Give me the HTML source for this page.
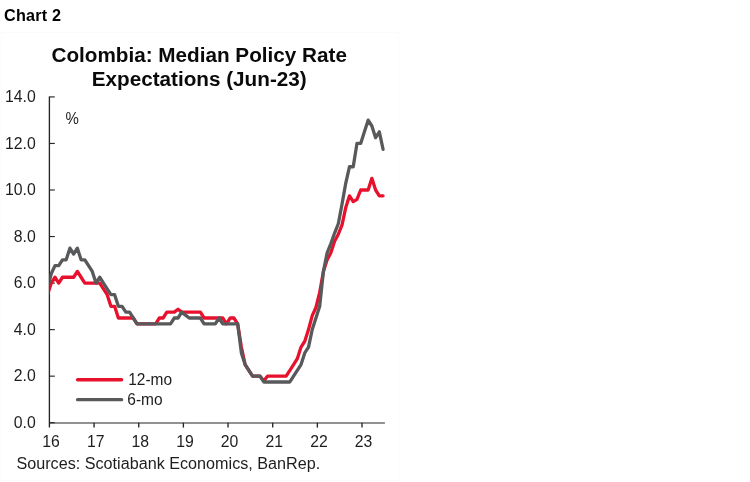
<!DOCTYPE html>
<html lang="en"><head><meta charset="utf-8"><title>Chart 2</title>
<style>
html,body{margin:0;padding:0;background:#fff;}
body{width:750px;height:482px;overflow:hidden;position:relative;font-family:"Liberation Sans",sans-serif;}
h1{position:absolute;left:4px;top:5px;margin:0;font-size:16.2px;line-height:20px;font-weight:bold;color:#000;letter-spacing:0.2px;white-space:nowrap;}
#frame{position:absolute;left:1px;top:32px;width:398px;height:449px;box-sizing:border-box;border:1px solid #fbfbfb;}
svg{position:absolute;left:0;top:0;}
svg text{font-family:"Liberation Sans",sans-serif;fill:#1e1e1e;}
svg text.t{fill:#0a0a0a;}
.t{font-weight:bold;font-size:20.7px;text-anchor:middle;}
.a{font-size:15.8px;}
.l{font-size:15.5px;}
.s{font-size:16.18px;}
</style></head><body>
<h1>Chart 2</h1>
<div id="frame"></div>
<svg width="750" height="482" viewBox="0 0 750 482">
<defs><clipPath id="c"><rect x="49.4" y="90" width="345" height="335"/></clipPath></defs>
<text class="t" x="199.2" y="61.7">Colombia: Median Policy Rate</text>
<text class="t" x="199.2" y="85.9">Expectations (Jun-23)</text>

<g stroke="#262626" stroke-width="1.35" fill="none">
<line x1="49.4" y1="96.4" x2="49.4" y2="427.6"/>
<line x1="49.4" y1="422.95" x2="384.9" y2="422.95" stroke-width="1.15"/>
<line x1="49.4" y1="422.70" x2="54.8" y2="422.70" stroke-width="1.15"/>
<line x1="49.4" y1="376.16" x2="54.8" y2="376.16" stroke-width="1.15"/>
<line x1="49.4" y1="329.62" x2="54.8" y2="329.62" stroke-width="1.15"/>
<line x1="49.4" y1="283.08" x2="54.8" y2="283.08" stroke-width="1.15"/>
<line x1="49.4" y1="236.54" x2="54.8" y2="236.54" stroke-width="1.15"/>
<line x1="49.4" y1="190.00" x2="54.8" y2="190.00" stroke-width="1.15"/>
<line x1="49.4" y1="143.46" x2="54.8" y2="143.46" stroke-width="1.15"/>
<line x1="49.4" y1="96.92" x2="54.8" y2="96.92" stroke-width="1.15"/>
<line x1="94.06" y1="422.7" x2="94.06" y2="427.6"/>
<line x1="138.72" y1="422.7" x2="138.72" y2="427.6"/>
<line x1="183.38" y1="422.7" x2="183.38" y2="427.6"/>
<line x1="228.04" y1="422.7" x2="228.04" y2="427.6"/>
<line x1="272.70" y1="422.7" x2="272.70" y2="427.6"/>
<line x1="317.36" y1="422.7" x2="317.36" y2="427.6"/>
<line x1="362.02" y1="422.7" x2="362.02" y2="427.6"/>
</g>
<text class="a" text-anchor="end" transform="translate(35.8 427.8) scale(1 1.05)">0.0</text>
<text class="a" text-anchor="end" transform="translate(35.8 381.3) scale(1 1.05)">2.0</text>
<text class="a" text-anchor="end" transform="translate(35.8 334.7) scale(1 1.05)">4.0</text>
<text class="a" text-anchor="end" transform="translate(35.8 288.2) scale(1 1.05)">6.0</text>
<text class="a" text-anchor="end" transform="translate(35.8 241.6) scale(1 1.05)">8.0</text>
<text class="a" text-anchor="end" transform="translate(35.8 195.1) scale(1 1.05)">10.0</text>
<text class="a" text-anchor="end" transform="translate(35.8 148.6) scale(1 1.05)">12.0</text>
<text class="a" text-anchor="end" transform="translate(35.8 102.0) scale(1 1.05)">14.0</text>
<text class="a" text-anchor="middle" transform="translate(51.0 446.5) scale(1 1.05)">16</text>
<text class="a" text-anchor="middle" transform="translate(95.7 446.5) scale(1 1.05)">17</text>
<text class="a" text-anchor="middle" transform="translate(140.3 446.5) scale(1 1.05)">18</text>
<text class="a" text-anchor="middle" transform="translate(185.0 446.5) scale(1 1.05)">19</text>
<text class="a" text-anchor="middle" transform="translate(229.6 446.5) scale(1 1.05)">20</text>
<text class="a" text-anchor="middle" transform="translate(274.3 446.5) scale(1 1.05)">21</text>
<text class="a" text-anchor="middle" transform="translate(319.0 446.5) scale(1 1.05)">22</text>
<text class="a" text-anchor="middle" transform="translate(363.6 446.5) scale(1 1.05)">23</text>
<text class="a" style="font-size:15px" transform="translate(65.5 123.9) scale(1 1.13)">%</text>
<g fill="none" stroke-width="3.3" stroke-linejoin="round" stroke-linecap="round" clip-path="url(#c)">
<polyline stroke="#e8112d" points="47.54,294.71 51.26,283.08 54.99,277.26 58.72,283.08 62.45,277.26 66.18,277.26 69.90,277.26 73.63,277.26 77.36,271.44 81.09,277.26 84.82,283.08 88.54,283.08 92.27,283.08 96.00,283.08 99.73,283.08 103.46,288.90 107.18,294.71 110.91,306.35 114.64,306.35 118.37,317.99 122.10,317.99 125.82,317.99 129.55,317.99 133.28,317.99 137.01,323.80 140.74,323.80 144.46,323.80 148.19,323.80 151.92,323.80 155.65,323.80 159.38,317.99 163.10,317.99 166.83,312.17 170.56,312.17 174.29,312.17 178.02,309.26 181.74,312.17 185.47,312.17 189.20,312.17 192.93,312.17 196.66,312.17 200.38,312.17 204.11,317.99 207.84,317.99 211.57,317.99 215.30,317.99 219.02,317.99 222.75,317.99 226.48,323.80 230.21,317.99 233.94,317.99 237.66,323.80 241.39,347.07 245.12,364.52 248.85,370.34 252.58,376.16 256.30,376.16 260.03,376.16 263.76,380.81 267.49,376.16 271.22,376.16 274.94,376.16 278.67,376.16 282.40,376.16 286.13,376.16 289.86,370.34 293.58,364.52 297.31,358.71 301.04,347.07 304.77,341.25 308.50,329.62 312.22,315.66 315.95,307.51 319.68,292.39 323.41,271.44 327.14,259.81 330.86,252.83 334.59,241.19 338.32,234.21 342.05,224.91 345.78,207.45 349.50,195.82 353.23,201.63 356.96,199.31 360.69,190.00 364.42,190.00 368.14,190.00 371.87,178.36 375.60,190.00 379.33,195.82 383.06,195.82"/>
<polyline stroke="#58595b" points="47.54,287.73 51.26,273.77 54.99,265.63 58.72,265.63 62.45,259.81 66.18,259.81 69.90,248.17 73.63,253.99 77.36,248.17 81.09,259.81 84.82,259.81 88.54,265.63 92.27,271.44 96.00,283.08 99.73,277.26 103.46,283.08 107.18,288.90 110.91,294.71 114.64,294.71 118.37,306.35 122.10,306.35 125.82,312.17 129.55,312.17 133.28,317.99 137.01,323.80 140.74,323.80 144.46,323.80 148.19,323.80 151.92,323.80 155.65,323.80 159.38,323.80 163.10,323.80 166.83,323.80 170.56,323.80 174.29,317.99 178.02,317.99 181.74,312.17 185.47,315.08 189.20,317.99 192.93,317.99 196.66,317.99 200.38,317.99 204.11,323.80 207.84,323.80 211.57,323.80 215.30,323.80 219.02,317.99 222.75,323.80 226.48,323.80 230.21,323.80 233.94,323.80 237.66,323.80 241.39,352.89 245.12,364.52 248.85,370.34 252.58,376.16 256.30,376.16 260.03,376.16 263.76,381.98 267.49,381.98 271.22,381.98 274.94,381.98 278.67,381.98 282.40,381.98 286.13,381.98 289.86,381.98 293.58,376.16 297.31,370.34 301.04,364.52 304.77,352.89 308.50,347.07 312.22,329.62 315.95,317.99 319.68,306.35 323.41,271.44 327.14,252.83 330.86,243.52 334.59,233.05 338.32,223.74 342.05,203.96 345.78,183.02 349.50,166.73 353.23,166.73 356.96,143.46 360.69,143.46 364.42,131.82 368.14,120.19 371.87,126.01 375.60,137.64 379.33,131.82 383.06,149.28"/>
</g>
<g fill="none" stroke-width="3.4" stroke-linecap="round">
<line stroke="#e8112d" x1="77.6" y1="379.75" x2="121.6" y2="379.75"/>
<line stroke="#58595b" x1="77.6" y1="399.65" x2="121.6" y2="399.65"/>
</g>
<text class="l" transform="translate(128.2 385) scale(1 1.08)">12-mo</text>
<text class="l" transform="translate(127.3 404.9) scale(1 1.08)">6-mo</text>
<text class="s" transform="translate(16.4 468.8) scale(1 1.04)">Sources: Scotiabank Economics, BanRep.</text>
</svg></body></html>
